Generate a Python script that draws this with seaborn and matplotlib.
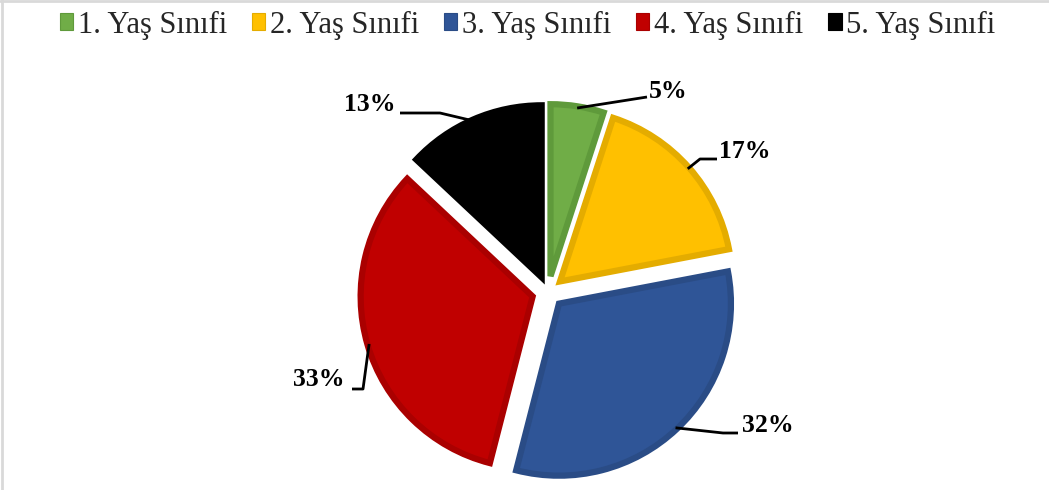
import matplotlib
matplotlib.use("Agg")
import matplotlib.pyplot as plt
from matplotlib.patches import Patch
from matplotlib.lines import Line2D
import numpy as np
import seaborn as sns

# data
categories = ["1. Yaş Sınıfi", "2. Yaş Sınıfi", "3. Yaş Sınıfi", "4. Yaş Sınıfi", "5. Yaş Sınıfi"]
values = [5, 17, 32, 33, 13]

fills = ["#70AD47", "#FFC000", "#2F5597", "#C00000", "#000000"]
edges = ["#5F9A3B", "#E4AC00", "#2A4C86", "#AA0000", "#000000"]

sns.set_theme(style="white")
plt.rcParams["font.family"] = ["Liberation Serif", "DejaVu Serif"]

W, H = 1049, 490
CX, CY, S = 548, 292, 172  # pie centre and radius in pixels


def px(x, y):
    return (x - CX) / S, (CY - y) / S


fig = plt.figure(figsize=(W / 100, H / 100), dpi=100)
ax = fig.add_axes([0, 0, 1, 1])

wedges, _ = ax.pie(values, colors=sns.color_palette(fills), explode=[0.093] * len(values),
                   startangle=90, counterclock=False, radius=1,
                   wedgeprops=dict(linewidth=4.5))
for w, ec in zip(wedges, edges):
    w.set_edgecolor(ec)

ax.set_aspect("auto")
ax.set_xlim(-CX / S, (W - CX) / S)
ax.set_ylim(-(H - CY) / S, CY / S)
ax.axis("off")

# label layout (pixel positions): text centre, leader end, elbow length
label_pos = [(668, 92), (745, 152), (768, 426), (319, 380), (370, 105)]
leader_end = [(647, 97), (717, 159), (738, 433), (352, 389), (400, 113)]
elbow = [0, 17, 15, 11, 40]

for w, v, tp, le, el in zip(wedges, values, label_pos, leader_end, elbow):
    mid = np.deg2rad((w.theta1 + w.theta2) / 2)
    ax_, ay_ = w.center[0] + w.r * 0.99 * np.cos(mid), w.center[1] + w.r * 0.99 * np.sin(mid)
    ex, ey = px(*le)
    side = 1 if le[0] > CX else -1
    bx = ex - side * el / S
    ax.plot([ax_, bx, ex], [ay_, ey, ey], color="black", lw=2, solid_capstyle="butt")
    tx, ty = px(*tp)
    ax.text(tx, ty, f"{v}%", ha="center", va="center", fontsize=18.5, fontweight="bold", color="black")

handles = [Patch(facecolor=f, edgecolor=e, linewidth=0.8) for f, e in zip(fills, edges)]
fig.legend(handles, categories, loc="center", bbox_to_anchor=(527.5 / W, 1 - 25 / H), ncol=5,
           frameon=False, fontsize=22, handlelength=0.45, handleheight=0.45,
           handletextpad=0.15, columnspacing=0.8)

# light grey frame edges (top and left)
fig.add_artist(Line2D([0, 1], [1 - 1 / H, 1 - 1 / H], transform=fig.transFigure, color="#D9D9D9", lw=2))
fig.add_artist(Line2D([1.5 / W, 1.5 / W], [0, 1], transform=fig.transFigure, color="#D9D9D9", lw=2))

fig.savefig("out.png", dpi=100)
